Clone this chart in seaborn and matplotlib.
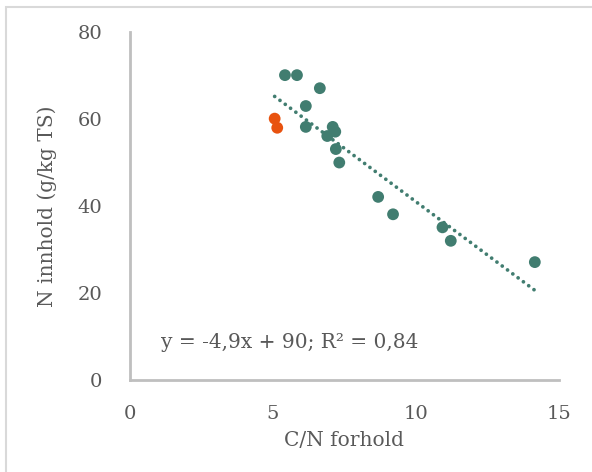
import numpy as np
import pandas as pd
import matplotlib
matplotlib.use("Agg")
import matplotlib.pyplot as plt
import seaborn as sns
from matplotlib.patches import Rectangle

# C/N ratio and nitrogen content per sample
cn_ratio = [5.42, 5.84, 6.64, 6.15, 6.15, 7.09, 7.18, 6.90, 7.20, 7.32,
            8.68, 9.20, 10.93, 11.22, 14.16, 5.06, 5.15]
n_content = [70.1, 70.1, 67.1, 63.0, 58.2, 58.2, 57.1, 56.1, 53.1, 50.0,
             42.1, 38.1, 35.1, 32.0, 27.1, 60.1, 58.0]
group = ["a"] * 15 + ["b"] * 2

# Linear trend (stated in the equation label)
slope = -4.9
intercept = 90
r_squared = 0.84

x_ticks = [0, 5, 10, 15]
y_ticks = [0, 20, 40, 60, 80]

green = "#417D70"
orange = "#E8520F"
grey_axis = "#BFBFBF"
text_col = "#595959"

sns.set_theme(style="white")
plt.rcParams["font.family"] = ["DejaVu Serif"]

df = pd.DataFrame({"cn": cn_ratio, "n": n_content, "g": group})

fig = plt.figure(figsize=(5.92, 4.72), dpi=100)
ax = fig.add_axes([0.2196, 0.195, 0.944 - 0.2196, 0.932 - 0.195])

# chart frame
fig.patches.append(Rectangle((6 / 592, -0.1), 1.2, 1 - 7 / 472 + 0.1,
                             transform=fig.transFigure, fill=False,
                             edgecolor="#D9D9D9", linewidth=1.5, zorder=0))

# dotted trendline
xl = np.array([min(cn_ratio), max(cn_ratio)])
ax.plot(xl, slope * xl + intercept, color=green, linewidth=2.7,
        linestyle=(0, (0.01, 1.75)), dash_capstyle="round", zorder=2)

sns.scatterplot(data=df, x="cn", y="n", hue="g",
                palette={"a": green, "b": orange}, s=72, linewidth=0,
                legend=False, ax=ax, zorder=3)

ax.set_xlim(0, 15)
ax.set_ylim(0, 80)
ax.set_xticks(x_ticks)
ax.set_yticks(y_ticks)
ax.tick_params(axis="both", length=0, labelsize=14, colors=text_col)
ax.tick_params(axis="y", pad=20)
ax.tick_params(axis="x", pad=18)
for s in ["top", "right"]:
    ax.spines[s].set_visible(False)
for s in ["left", "bottom"]:
    ax.spines[s].set_color(grey_axis)
    ax.spines[s].set_linewidth(2)

ax.set_xlabel("C/N forhold", fontsize=14.5, color=text_col, labelpad=6)
ax.set_ylabel("N innhold (g/kg TS)", fontsize=14.5, color=text_col, labelpad=15)

eq = f"y = {slope:.1f}x + {intercept}; R² = {r_squared:.2f}".replace(".", ",")
ax.text(161 / 592, 1 - 342 / 472, eq, transform=fig.transFigure,
        fontsize=14.5, color=text_col, va="center", ha="left")

fig.savefig("out.png", dpi=100)
